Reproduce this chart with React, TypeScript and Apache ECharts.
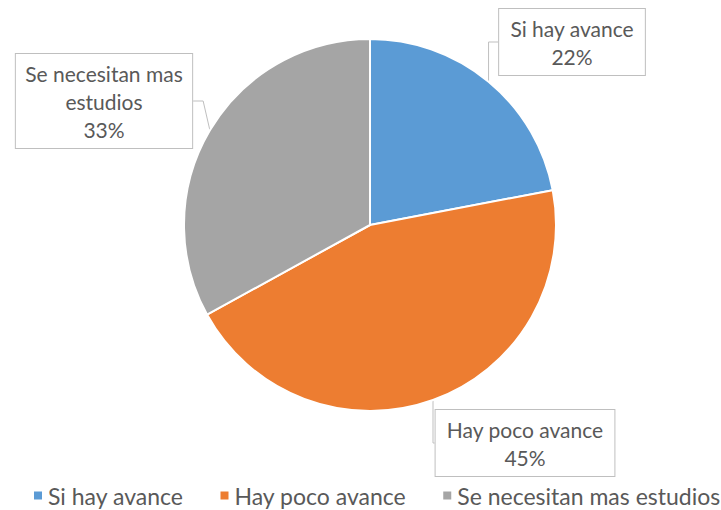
import React, { useEffect, useRef } from "react";
import * as echarts from "echarts";

const categories = ["Si hay avance", "Hay poco avance", "Se necesitan mas estudios"];
const values = [22, 45, 33];
const colors = ["#5B9BD5", "#ED7D31", "#A5A5A5"];
const labelPos = [
  [572, 42],
  [525, 443],
  [104, 101],
];

export default function App() {
  const ref = useRef<HTMLDivElement>(null);
  useEffect(() => {
    if (!ref.current) return;
    const chart = echarts.init(ref.current, null, { renderer: "svg" });
    const font = "Lato, 'Open Sans', sans-serif";
    chart.setOption({
      animation: false,
      color: colors,
      legend: {
        bottom: 3,
        left: 32,
        width: 700,
        padding: 0,
        icon: "rect",
        itemWidth: 10,
        itemHeight: 10,
        itemGap: 35,
        textStyle: { fontFamily: font, fontSize: 23, color: "#595959" },
        data: categories,
      },
      series: [
        {
          type: "pie",
          center: [370, 225],
          radius: 186,
          startAngle: 90,
          clockwise: true,
          itemStyle: { borderColor: "#fff", borderWidth: 2 },
          data: categories.map((c, i) => ({ name: c, value: values[i] })),
          label: {
            show: true,
            position: "outside",
            fontFamily: font,
            fontSize: 21,
            lineHeight: 28,
            color: "#595959",
            backgroundColor: "#fff",
            borderColor: "#BFBFBF",
            borderWidth: 1,
            padding: [5, 11],
            align: "center",
            overflow: "none",
            formatter: (p: any) => {
              const n = p.name === "Se necesitan mas estudios" ? "Se necesitan mas\nestudios" : p.name;
              return n + "\n" + Math.round(p.percent) + "%";
            },
          },
          labelLine: { show: true, length: 10, length2: 10, lineStyle: { color: "#BFBFBF", width: 1 } },
          labelLayout: (params: any) => ({
            x: labelPos[params.dataIndex][0],
            y: labelPos[params.dataIndex][1],
            align: "center",
            verticalAlign: "middle",
          }),
        },
      ],
    });
    return () => chart.dispose();
  }, []);
  return <div ref={ref} style={{ position: "absolute", left: 0, top: 0, width: 721, height: 510 }} />;
}
